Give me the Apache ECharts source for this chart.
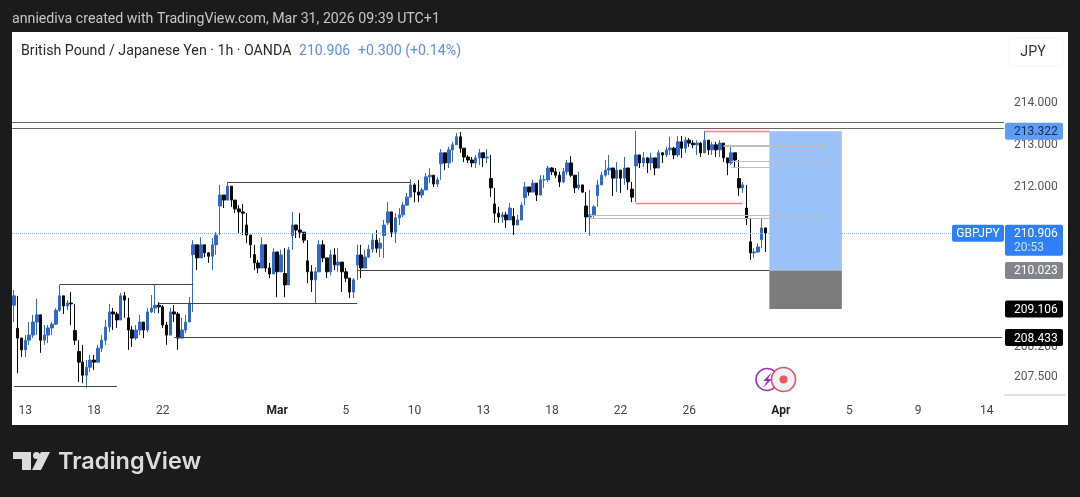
<!DOCTYPE html>
<html>
<head>
<meta charset="utf-8">
<title>GBPJPY</title>
<script src="https://cdn.jsdelivr.net/npm/echarts@6/dist/echarts.min.js"></script>
<style>
html,body{margin:0;padding:0;background:#1b1b1b;}
#container{width:1080px;height:497px;}
</style>
</head>
<body>
<div id="container"></div>
<script>
// trading days on the axis, 4h bars, weekends collapsed
var tradingDays = ['Feb 13','Feb 16','Feb 17','Feb 18','Feb 19','Feb 20','Feb 22','Feb 24','Feb 25','Feb 26','Feb 27',
    'Mar 1','Mar 3','Mar 4','Mar 5','Mar 6','Mar 9','Mar 10','Mar 11','Mar 12','Mar 13','Mar 16','Mar 17','Mar 18','Mar 19','Mar 20','Mar 22','Mar 24','Mar 25','Mar 26','Mar 27','Mar 30','Mar 31',
    'Apr 1','Apr 2','Apr 3','Apr 5','Apr 7','Apr 8','Apr 9','Apr 10','Apr 13','Apr 14'];
var tickDays = ['Feb 13','Feb 18','Feb 22','Mar 1','Mar 5','Mar 10','Mar 13','Mar 18','Mar 22','Mar 26','Apr 1','Apr 5','Apr 9','Apr 14'];
var tickLabels = ['13','18','22','Mar','5','10','13','18','22','26','Apr','5','9','14'];
var priceTicks = [214,213,212,208.2,207.5];

var firstOpen = 209.2;
var closes = [209.42,208.42,208.14,208.37,208.49,208.80,208.97,208.37,208.49,208.66,208.75,209.08,209.42,209.18,209.25,209.23,208.37,207.85,207.54,207.73,
    207.90,207.85,208.18,208.37,208.68,209.04,208.99,208.85,209.42,209.32,208.61,208.42,208.61,208.80,208.61,209.04,209.13,209.20,209.16,208.73,
    208.49,209.04,208.99,208.42,208.61,208.80,209.25,210.63,210.32,210.63,210.44,210.36,210.63,210.86,211.81,211.69,212.02,211.69,211.48,211.41,
    211.38,210.86,210.63,210.20,210.08,210.63,210.08,209.94,210.46,209.99,210.39,209.68,210.51,211.10,210.98,210.93,210.74,209.99,209.80,209.99,
    210.63,210.32,209.99,210.39,210.15,210.22,209.99,209.84,209.51,209.80,210.39,210.08,210.34,210.53,210.74,210.55,210.67,211.10,211.41,210.93,
    211.27,211.34,211.57,211.76,212.05,211.88,211.81,211.93,212.24,212.28,212.07,212.17,212.81,212.57,212.88,213.00,213.19,212.92,212.71,212.64,
    212.57,212.69,212.81,212.69,212.71,211.98,211.38,211.29,211.34,211.22,211.50,211.10,211.22,211.57,212.00,211.88,212.09,211.81,212.17,212.17,
    212.45,212.36,212.28,212.12,212.36,212.57,212.28,211.98,212.05,211.88,211.29,211.34,211.53,212.05,212.28,212.40,212.45,212.21,212.40,212.21,
    212.45,212.12,211.76,212.76,212.57,212.69,212.57,212.69,212.45,212.81,212.76,212.88,212.92,212.76,213.07,212.92,213.11,213.04,213.00,213.04,
    212.81,213.11,212.88,213.00,212.88,213.04,212.69,212.57,212.81,212.64,211.98,212.05,211.27,210.44,210.46,210.58,211.03,210.906];
var highs = [209.56,209.32,208.37,208.49,208.80,208.97,209.35,208.97,208.73,208.73,208.80,209.13,209.68,209.37,209.32,209.51,209.23,208.37,208.26,207.90,
    208.02,208.02,208.26,208.49,208.85,209.23,209.13,209.04,209.49,209.51,209.37,208.71,208.73,208.97,208.80,209.13,209.44,209.70,209.27,209.20,
    208.80,209.13,209.20,209.04,208.90,208.97,209.39,210.74,210.51,210.81,210.58,210.46,210.79,210.93,212.05,211.81,212.12,211.98,211.62,211.57,
    211.60,211.38,210.67,210.46,210.27,210.81,210.32,210.20,210.55,210.34,210.51,210.55,210.58,211.41,211.10,211.38,210.93,210.67,210.15,210.10,
    210.74,210.74,210.20,210.51,210.55,210.55,210.15,210.08,209.80,209.84,210.63,210.63,210.51,210.63,210.91,210.98,210.79,211.22,211.64,211.22,
    211.38,211.50,211.64,211.86,212.19,212.09,212.17,211.98,212.33,212.45,212.24,212.24,212.90,212.81,212.95,213.07,213.28,213.30,212.83,212.76,
    212.71,212.76,212.90,212.81,212.90,212.76,211.76,211.53,211.41,211.41,211.62,211.50,211.34,211.64,212.12,212.00,212.17,212.05,212.28,212.28,
    212.50,212.47,212.45,212.36,212.45,212.64,212.73,212.28,212.36,212.05,211.86,211.93,211.57,212.17,212.36,212.64,212.76,212.45,212.59,212.40,
    212.71,212.45,212.12,213.33,212.76,212.83,212.71,212.81,212.69,212.88,212.83,212.95,213.19,212.95,213.21,213.21,213.19,213.16,213.11,213.11,
    213.07,213.33,213.11,213.07,213.07,213.11,213.04,212.69,213.00,212.71,212.64,212.12,212.05,211.27,210.55,210.67,211.27,210.98];
var lows = [208.80,207.59,207.97,207.97,208.26,208.42,208.49,208.07,208.26,208.30,208.49,208.73,209.04,208.99,209.08,208.73,208.26,207.38,207.35,207.24,
    207.62,207.66,207.85,208.09,208.26,208.56,208.61,208.66,208.85,208.90,208.14,208.21,208.37,208.49,208.42,208.56,209.01,209.01,209.01,208.66,
    208.26,208.56,208.80,208.14,208.42,208.54,208.90,209.04,210.03,210.32,210.34,210.20,210.03,210.39,211.50,211.50,211.74,211.53,211.38,210.91,
    210.86,210.67,210.32,210.03,209.96,210.27,209.99,209.84,210.08,209.39,210.10,209.39,210.03,210.55,210.79,210.79,210.67,209.72,209.51,209.25,
    210.20,210.22,209.84,209.91,210.03,209.99,209.51,209.75,209.37,209.37,210.03,209.84,210.20,210.32,210.44,210.44,210.34,210.32,211.17,210.81,
    210.67,211.10,211.29,211.57,211.81,211.64,211.64,211.74,211.98,212.09,212.00,212.00,212.17,212.40,212.45,212.59,213.00,212.81,212.59,212.57,
    212.47,212.45,212.52,212.47,212.57,211.76,211.15,211.15,211.15,211.03,211.22,210.86,211.10,211.22,211.57,211.79,211.88,211.67,211.86,211.98,
    212.12,212.28,212.21,212.00,212.09,212.28,212.24,211.86,211.93,211.86,210.93,210.84,211.27,211.81,212.05,212.24,212.28,211.79,211.88,211.86,
    212.05,211.93,211.64,211.64,212.45,212.47,212.33,212.40,212.28,212.45,212.57,212.71,212.76,212.66,212.71,212.69,212.81,212.95,212.92,212.76,
    212.71,212.81,212.76,212.76,212.71,212.71,212.59,212.28,212.52,212.47,211.79,211.86,211.10,210.27,210.32,210.44,210.55,210.46];
// bars on steep moves read as a thin line: the body is short, the rest is wick
var steepBars = [1,16,17,30,47,54,61,63,71,73,77,90,97,98,112,125,126,131,134,150,153,162,163,190,192,193,196];
var steepOpens = [208.65,208.6,208.1,208.9,210.4,211.55,211.1,210.4,209.95,210.85,210.25,210.15,210.85,211.15,212.55,212.2,211.6,211.3,211.75,211.55,211.8,211.95,212.5,212.2,211.5,210.7,210.75];

// drawn levels: from bar, to bar, price
var fullLevels = [213.54,213.40];
var lastPrice = 210.906;
var blackStart = [56,12,38,42,0,90];
var blackEnd = [104,47,90,259,27,198];
var blackPrice = [212.12,209.69,209.235,208.433,207.285,210.023];
var redStart = [181,163];
var redEnd = [198,191];
var redPrice = [213.322,211.62];
var greyStart = [186,186,188,188,151,151];
var greyEnd = [213,213,213,213,211,213];
var greyPrice = [213.0,212.96,212.62,212.46,211.33,211.25];

// long position box
var boxStart = 198, boxEnd = 217;
var targetPrice = 213.322, entryPrice = 210.023, stopPrice = 209.106;

var tagPrices = [213.322,210.906,210.023,209.106,208.433];
var tagTexts = ['213.322','210.906','210.023','209.106','208.433'];
var tagFills = ['#5d9df5','#2f7ff6','#83838b','#000000','#000000'];
var tagColors = ['#1c2b44','#ffffff','#ffffff','#ffffff','#ffffff'];

var categories = ['Feb 12 12','Feb 12 16','Feb 12 20'];
for (var d = 0; d < tradingDays.length; d++) {
    for (var h = 0; h < 24; h += 4) {
        categories.push(tradingDays[d] + ' ' + h);
    }
}
categories = categories.slice(0, 260);

var candles = [];
for (var i = 0; i < closes.length; i++) {
    var prev = i == 0 ? firstOpen : closes[i - 1];
    var k = steepBars.indexOf(i);
    var open = k >= 0 ? steepOpens[k] : prev;
    // the wick still reaches the previous close so the line stays unbroken
    candles.push([open, closes[i], Math.min(lows[i], prev), Math.max(highs[i], prev)]);
}

function segments(starts, ends, prices, color, width) {
    var out = [];
    for (var i = 0; i < starts.length; i++) {
        out.push([
            {coord: [starts[i], prices[i]], lineStyle: {color: color, width: width, type: 'solid', opacity: 1}},
            {coord: [ends[i], prices[i]]}
        ]);
    }
    return out;
}

var levelLines = []
    .concat(segments(greyStart, greyEnd, greyPrice, '#bdbdbd', 1))
    .concat(segments(blackStart, blackEnd, blackPrice, '#444444', 1.2))
    .concat(segments(redStart, redEnd, redPrice, '#f77f86', 1.4));
levelLines.push({yAxis: fullLevels[0], lineStyle: {color: '#666666', width: 1.2, type: 'solid', opacity: 1}});
levelLines.push({yAxis: fullLevels[1], lineStyle: {color: '#666666', width: 1.2, type: 'solid', opacity: 1}});
levelLines.push({yAxis: lastPrice, lineStyle: {color: '#8fb8f2', width: 1, type: 'dotted', opacity: 1}});

var fontName = 'Roboto';
var logoColor = '#dcdcdc';

var option = {
    backgroundColor: '#1b1b1b',
    animation: false,
    textStyle: {fontFamily: fontName},
    grid: {left: 12, top: 32, width: 992, height: 363, containLabel: false},
    xAxis: {
        type: 'category',
        data: categories,
        axisLine: {show: false},
        axisTick: {show: false},
        splitLine: {show: false},
        axisLabel: {
            margin: 10,
            fontSize: 12,
            color: '#444',
            hideOverlap: false,
            interval: function (index, value) {
                var parts = value.split(' ');
                return parts[2] == '0' && tickDays.indexOf(parts[0] + ' ' + parts[1]) >= 0;
            },
            formatter: function (value) {
                var parts = value.split(' ');
                var text = tickLabels[tickDays.indexOf(parts[0] + ' ' + parts[1])];
                if (text == 'Mar' || text == 'Apr') {
                    return '{b|' + text + '}';
                }
                return text;
            },
            rich: {b: {fontWeight: 'bold', fontSize: 12, color: '#222', fontFamily: fontName}}
        }
    },
    yAxis: {
        type: 'value',
        position: 'right',
        min: 207.071,
        max: 215.673,
        axisLine: {show: false},
        axisTick: {show: false},
        splitLine: {show: false},
        axisLabel: {
            show: true,
            margin: 10,
            fontSize: 12,
            color: '#555',
            padding: [4, 0, 0, 0],
            customValues: priceTicks,
            formatter: function (value) {
                return value.toFixed(3);
            }
        }
    },
    series: [
        {
            type: 'candlestick',
            data: candles,
            barWidth: 3,
            z: 3,
            itemStyle: {
                color: '#3068cc',
                color0: '#0b0b0b',
                borderColor: '#3068cc',
                borderColor0: '#0b0b0b',
                borderWidth: 1
            },
            markLine: {
                silent: true,
                symbol: 'none',
                label: {show: false},
                animation: false,
                data: levelLines
            },
            markArea: {
                silent: true,
                animation: false,
                data: [
                    [{coord: [boxStart, targetPrice], itemStyle: {color: '#9bc2f8', opacity: 1}}, {coord: [boxEnd, entryPrice]}],
                    [{coord: [boxStart, entryPrice], itemStyle: {color: '#7c7c7c', opacity: 1}}, {coord: [boxEnd, stopPrice]}]
                ]
            }
        },
        {
            // price tags sitting on the right scale
            type: 'custom',
            z: 10,
            clip: false,
            silent: true,
            data: tagPrices.map(function (p, i) { return [0, p, i]; }),
            encode: {x: 0, y: 1},
            renderItem: function (params, api) {
                var i = api.value(2);
                var y = api.coord([0, api.value(1)])[1];
                var isLast = tagPrices[i] == lastPrice;
                var children = [
                    {type: 'rect', shape: {x: 1005, y: y - 8.5, width: 58, height: isLast ? 31 : 17, r: 2}, style: {fill: tagFills[i]}},
                    {type: 'text', style: {x: 1014, y: y + 1, text: tagTexts[i], fill: tagColors[i], font: '12px ' + fontName, textAlign: 'left', textVerticalAlign: 'middle'}}
                ];
                if (isLast) {
                    children.push({type: 'text', style: {x: 1014, y: y + 15, text: '20:53', fill: '#cfe0fb', font: '12px ' + fontName, textAlign: 'left', textVerticalAlign: 'middle'}});
                    children.push({type: 'rect', shape: {x: 952, y: y - 8.5, width: 52, height: 17, r: 2}, style: {fill: '#2f7ff6'}});
                    children.push({type: 'text', style: {x: 978, y: y + 1, text: 'GBPJPY', fill: '#ffffff', font: '12px ' + fontName, textAlign: 'center', textVerticalAlign: 'middle'}});
                }
                return {type: 'group', children: children};
            }
        }
    ],
    graphic: [
        {type: 'rect', z: -1, shape: {x: 12, y: 32, width: 1056, height: 393}, style: {fill: '#ffffff'}},
        {type: 'text', x: 12, y: 19.5, style: {text: 'anniediva created with TradingView.com, Mar 31, 2026 09:39 UTC+1', fill: '#c6c6c6', font: '14.2px ' + fontName, textVerticalAlign: 'middle'}},
        {type: 'text', x: 21, y: 51, z: 5, style: {text: 'British Pound / Japanese Yen · 1h · OANDA', fill: '#2a2a2a', font: '14.2px ' + fontName, textVerticalAlign: 'middle'}},
        {type: 'text', x: 299, y: 51, z: 5, style: {text: '210.906', fill: '#5b8fe4', font: '14.1px ' + fontName, textVerticalAlign: 'middle'}},
        {type: 'text', x: 358, y: 51, z: 5, style: {text: '+0.300 (+0.14%)', fill: '#5b8fe4', font: '14.2px ' + fontName, textVerticalAlign: 'middle'}},
        {type: 'rect', z: 1, shape: {x: 1009, y: 38, width: 54, height: 28, r: 3}, style: {fill: '#ffffff', stroke: '#f6f6f6'}},
        {type: 'text', x: 1033, y: 52, z: 5, style: {text: 'JPY', fill: '#333', font: '14.2px ' + fontName, textAlign: 'center', textVerticalAlign: 'middle'}},
        {type: 'line', z: 5, shape: {x1: 1004, y1: 395, x2: 1066, y2: 395}, style: {stroke: '#c4c4c4', lineWidth: 1}},
        // event badges
        {type: 'circle', z: 5, shape: {cx: 767, cy: 379.5, r: 11}, style: {fill: '#ffffff', stroke: '#9b36b7', lineWidth: 1.6}},
        {type: 'polygon', z: 5, shape: {points: [[772, 372], [763, 381], [767, 381], [763, 388], [772, 379], [768, 379]]}, style: {fill: '#9b36b7'}},
        {type: 'circle', z: 6, shape: {cx: 783.5, cy: 379.5, r: 12}, style: {fill: '#eef1f8', stroke: '#e5525c', lineWidth: 1.6}},
        {type: 'circle', z: 6, shape: {cx: 783.5, cy: 379.5, r: 4}, style: {fill: '#f2555f'}},
        // logo
        {type: 'polygon', shape: {points: [[13, 452], [31, 452], [31, 470], [22, 470], [22, 459], [13, 459]]}, style: {fill: logoColor}},
        {type: 'circle', shape: {cx: 36.5, cy: 455.5, r: 3.5}, style: {fill: logoColor}},
        {type: 'polygon', shape: {points: [[41, 452], [50, 452], [41, 470], [32, 470]]}, style: {fill: logoColor}},
        {type: 'text', x: 58, y: 462, style: {text: 'TradingView', fill: logoColor, font: '600 23.5px Inter', textVerticalAlign: 'middle'}}
    ]
};

var myChart = echarts.init(document.getElementById('container'), null, {renderer: 'canvas'});
myChart.setOption(option);
</script>
</body>
</html>
